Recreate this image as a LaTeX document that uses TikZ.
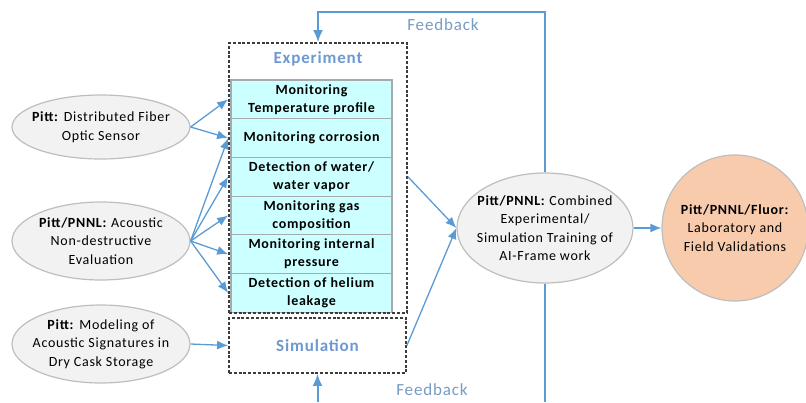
\documentclass[tikz,border=0pt]{standalone}
\usepackage{fontspec}
\setmainfont{Carlito}[LetterSpace=5]
\usetikzlibrary{shapes.geometric,arrows.meta}
\definecolor{lineblue}{RGB}{91,155,213}
\definecolor{titleblue}{RGB}{110,152,208}
\definecolor{fbblue}{RGB}{118,155,196}
\definecolor{rowcyan}{RGB}{204,255,255}
\definecolor{rowgray}{RGB}{165,170,172}
\definecolor{ovalfill}{RGB}{242,242,242}
\definecolor{ovalgray}{RGB}{190,190,190}
\definecolor{peach}{RGB}{248,203,173}
\definecolor{dashgray}{RGB}{60,60,60}
\begin{document}
\begin{tikzpicture}[x=1pt,y=-1pt,
  task/.style={draw=rowgray, fill=rowcyan, line width=1.2pt, inner sep=0pt,
    minimum width=161pt, minimum height=38.7pt, align=center,
    font=\fontsize{14}{18}\selectfont\bfseries},
  group/.style={draw=dashgray, line width=1.8pt, dash pattern=on 3pt off 1.8pt},
  oval/.style={ellipse, draw=ovalgray, fill=ovalfill, line width=1.2pt,
    inner xsep=-10pt, inner ysep=0pt, align=center,
    font=\fontsize{14}{18.5}\selectfont},
  link/.style={draw=lineblue, line width=1.3pt, -{Latex[length=11pt,width=9pt]}},
  fb/.style={draw=lineblue, line width=2pt},
  fbtext/.style={text=fbblue, font=\fontsize{17}{18}\selectfont}]
\useasboundingbox (0,0) rectangle (806,402);

% sensing methods
\node[oval, minimum width=178pt, minimum height=64pt] (fiber) at (101,127)
  {\textbf{Pitt:} Distributed Fiber\\Optic Sensor};
\node[oval, minimum width=178pt, minimum height=78pt] (acoustic) at (101,241)
  {\textbf{Pitt/PNNL:} Acoustic\\Non-destructive\\Evaluation};
\node[oval, minimum width=178pt, minimum height=78pt] (model) at (101,344)
  {\textbf{Pitt:} Modeling of\\Acoustic Signatures in\\Dry Cask Storage};

% monitoring tasks
\node[task] (r1) at (311.5,99.35) {Monitoring\\Temperature profile};
\node[task] (r2) at (311.5,138.05) {Monitoring corrosion};
\node[task] (r3) at (311.5,176.75) {Detection of water/\\water vapor};
\node[task] (r4) at (311.5,215.45) {Monitoring gas\\composition};
\node[task] (r5) at (311.5,254.15) {Monitoring internal\\pressure};
\node[task] (r6) at (311.5,292.85) {Detection of helium\\leakage};

\node[group, minimum width=178pt, minimum height=270pt] (exp) at (318,178) {};
\node[text=titleblue, font=\fontsize{17}{18}\selectfont\bfseries] (exptitle) at (318,59) {Experiment};
\node[group, minimum width=177pt, minimum height=55pt, text=titleblue,
  font=\fontsize{17}{18}\selectfont\bfseries] (sim) at (317.5,345.5) {Simulation};

% training and validation
\node[oval, minimum width=176pt, minimum height=110pt] (train) at (545,228)
  {\textbf{Pitt/PNNL:} Combined\\Experimental/\\Simulation Training of\\AI-Frame work};
\node[circle, draw=ovalgray, fill=peach, line width=1.2pt, minimum size=146pt,
  inner sep=0pt, align=center, font=\fontsize{14}{18.5}\selectfont] (lab) at (735,228)
  {\textbf{Pitt/PNNL/Fluor:}\\Laboratory and\\Field Validations};

\path[link] (fiber.east) -- (exp.west |- r1);
\path[link] (fiber.east) -- (exp.west |- r2);
\path[link] (acoustic.east) -- (exp.west |- r2);
\path[link] (acoustic.east) -- (exp.west |- r3);
\path[link] (acoustic.east) -- (exp.west |- r4);
\path[link] (acoustic.east) -- (exp.west |- r5);
\path[link] (acoustic.east) -- (exp.west |- r6);
\path[link] (model.east) -- (sim.west);
\path[link] (exp.east |- r3) -- (train.west);
\path[link] (sim.east) -- (train.west);
\path[link] (train.east) -- (lab.west);

% feedback loops
\coordinate (top) at (0,12);
\coordinate (bottom) at (0,402);
\path[fb, -{Latex[length=12pt,width=10pt]}] (train.north) |- (exp.north |- top) -- (exp.north);
\path[fb] (train.south) -- (train.south |- bottom);
\path[fb, -{Latex[length=12pt,width=10pt]}] (sim.south |- bottom) -- (sim.south);
\node[fbtext] (fbup) at (443,25) {Feedback};
\node[fbtext] (fbdown) at (432,390) {Feedback};
\end{tikzpicture}
\end{document}
